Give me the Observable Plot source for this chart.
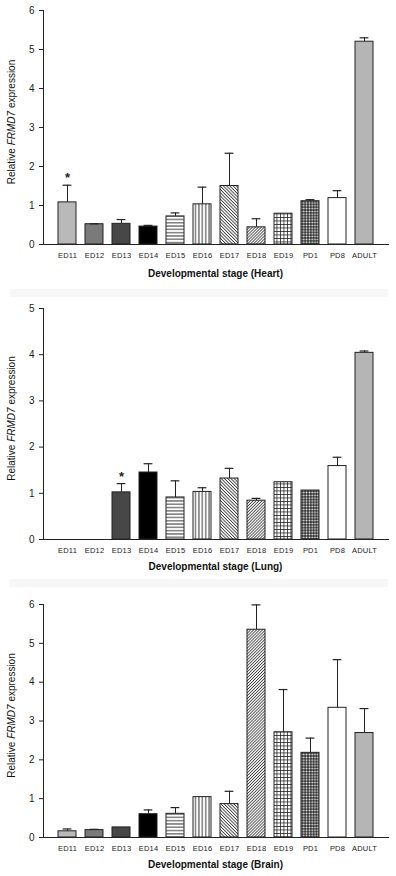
<!DOCTYPE html>
<html>
<head>
<meta charset="utf-8">
<script src="https://cdn.jsdelivr.net/npm/d3@7"></script>
<script src="https://cdn.jsdelivr.net/npm/@observablehq/plot@0.6"></script>
<style>
  html, body { margin: 0; padding: 0; background: #fff; }
  body { width: 396px; font-family: "Liberation Sans", Arial, sans-serif; }
  .sep { height: 10px; position: relative; }
  .sep div { position: absolute; left: 10px; right: 8px; top: 1px; bottom: 1px; background: #f7f7f7; }
  svg { display: block; }
</style>
</head>
<body>
<svg width="0" height="0" style="position:absolute">
  <defs>
    <pattern id="p-hl" patternUnits="userSpaceOnUse" width="4" height="3.3">
      <rect width="4" height="3.3" fill="#fff"/>
      <line x1="0" x2="4" y1="1.65" y2="1.65" stroke="#222" stroke-width="0.9"/>
    </pattern>
    <pattern id="p-vl" patternUnits="userSpaceOnUse" width="3.4" height="4">
      <rect width="3.4" height="4" fill="#fff"/>
      <line y1="0" y2="4" x1="1.7" x2="1.7" stroke="#222" stroke-width="0.9"/>
    </pattern>
    <pattern id="p-bs" patternUnits="userSpaceOnUse" width="2.3" height="4" patternTransform="rotate(-45)">
      <rect width="2.3" height="4" fill="#fff"/>
      <line y1="0" y2="4" x1="1.15" x2="1.15" stroke="#333" stroke-width="0.85"/>
    </pattern>
    <pattern id="p-fs" patternUnits="userSpaceOnUse" width="2.1" height="4" patternTransform="rotate(45)">
      <rect width="2.1" height="4" fill="#fff"/>
      <line y1="0" y2="4" x1="1.05" x2="1.05" stroke="#333" stroke-width="0.8"/>
    </pattern>
    <pattern id="p-grid" patternUnits="userSpaceOnUse" width="3.5" height="3.5">
      <rect width="3.5" height="3.5" fill="#fff"/>
      <line x1="0" x2="3.5" y1="0.4" y2="0.4" stroke="#222" stroke-width="0.8"/>
      <line y1="0" y2="3.5" x1="0.4" x2="0.4" stroke="#222" stroke-width="0.8"/>
    </pattern>
    <pattern id="p-dot" patternUnits="userSpaceOnUse" width="2.8" height="2.8">
      <rect width="2.8" height="2.8" fill="#2a2a2a"/>
      <circle cx="1.4" cy="1.4" r="0.9" fill="#fff"/>
    </pattern>
  </defs>
</svg>
<div id="c1"></div>
<div class="sep"><div></div></div>
<div id="c2"></div>
<div class="sep"><div></div></div>
<div id="c3"></div>
<script>
// ---- data ----
const stages = ["ED11","ED12","ED13","ED14","ED15","ED16","ED17","ED18","ED19","PD1","PD8","ADULT"];
const fills  = ["#b9b9b9","#7a7a7a","#474747","#000000","url(#p-hl)","url(#p-vl)","url(#p-bs)","url(#p-fs)","url(#p-grid)","url(#p-dot)","#ffffff","#b5b5b5"];

const heartMean = [1.08, 0.52, 0.53, 0.46, 0.72, 1.03, 1.50, 0.44, 0.79, 1.11, 1.19, 5.20];
const heartErr  = [0.44, 0.01, 0.11, 0.03, 0.09, 0.44, 0.84, 0.22, 0,    0.04, 0.19, 0.10];
const heartStar = ["ED11"];

const lungMean = [null, null, 1.02, 1.45, 0.91, 1.03, 1.32, 0.84, 1.24, 1.06, 1.59, 4.04];
const lungErr  = [null, null, 0.19, 0.19, 0.36, 0.09, 0.22, 0.05, 0,    0,    0.19, 0.04];
const lungStar = ["ED13"];

const brainMean = [0.16, 0.19, 0.26, 0.60, 0.61, 1.04, 0.86, 5.35, 2.71, 2.18, 3.34, 2.69];
const brainErr  = [0.06, 0.02, 0,    0.11, 0.16, 0,    0.33, 0.64, 1.10, 0.38, 1.24, 0.63];
const brainStar = [];

const yTicksHeart = [0,1,2,3,4,5,6];
const yTicksLung  = [0,1,2,3,4,5];
const yTicksBrain = [0,1,2,3,4,5,6];

function panel(el, {mean, err, stars, ticks, organ, height, mt, mb, titleY}) {
  const data = stages.map((s, i) => ({stage: s, mean: mean[i], err: err[i], top: mean[i] + (err[i] || 0), fill: fills[i]}))
                     .filter(d => d.mean != null);
  const errData = data.filter(d => d.err > 0);
  const starData = data.filter(d => stars.includes(d.stage));
  const plot = Plot.plot({
    width: 396, height, marginTop: mt, marginBottom: mb, marginLeft: 43, marginRight: 8,
    style: {fontFamily: "'Liberation Sans', Arial, sans-serif", fontSize: "10px", color: "#222", background: "#fff", overflow: "visible"},
    x: {domain: stages, paddingInner: 0.34, paddingOuter: 0.353, tickSize: 0, tickPadding: 8, label: null, line: true},
    y: {domain: [0, ticks[ticks.length - 1]], ticks: ticks, tickSize: 4, tickPadding: 5, label: null, line: true, tickFormat: d => String(d)},
    color: {type: "identity"},
    marks: [
      Plot.ruleX(errData, {x: "stage", y1: "mean", y2: "top", stroke: "#222", strokeWidth: 1}),
      Plot.barY(data, {x: "stage", y: "mean", fill: "fill", stroke: "#222", strokeWidth: 1}),
      Plot.tickY(errData, {x: "stage", y: "top", insetLeft: 4.6, insetRight: 4.6, stroke: "#222", strokeWidth: 1.2}),
      Plot.text(starData, {x: "stage", y: "top", text: () => "*", dy: -7, fontSize: 13, fontWeight: "bold", fill: "#222"})
    ]
  });
  const svg = d3.select(plot.tagName === "svg" ? plot : plot.querySelector("svg"));
  svg.selectAll('g[aria-label^="x-axis"] text').attr("font-size", "7.5px").style("font-size", "7.5px").attr("letter-spacing", "0.2");
  svg.append("text").attr("x", (43 + 388) / 2).attr("y", titleY).attr("text-anchor", "middle")
     .attr("font-weight", "bold").attr("font-size", "10px").attr("fill", "#111").text(`Developmental stage (${organ})`);
  const cy = (mt + (height - mb)) / 2 - 5;
  const t = svg.append("text").attr("transform", `translate(15,${cy}) rotate(-90)`).attr("text-anchor", "middle")
     .attr("font-size", "10px").attr("fill", "#111");
  t.append("tspan").text("Relative ");
  t.append("tspan").attr("font-style", "italic").text("FRMD7");
  t.append("tspan").text(" expression");
  document.getElementById(el).appendChild(plot);
}

panel("c1", {mean: heartMean, err: heartErr, stars: heartStar, ticks: yTicksHeart, organ: "Heart", height: 288, mt: 10, mb: 44, titleY: 277});
panel("c2", {mean: lungMean, err: lungErr, stars: lungStar, ticks: yTicksLung, organ: "Lung", height: 280, mt: 10, mb: 39, titleY: 271.5});
panel("c3", {mean: brainMean, err: brainErr, stars: brainStar, ticks: yTicksBrain, organ: "Brain", height: 288, mt: 16, mb: 39, titleY: 279.5});
</script>
</body>
</html>
